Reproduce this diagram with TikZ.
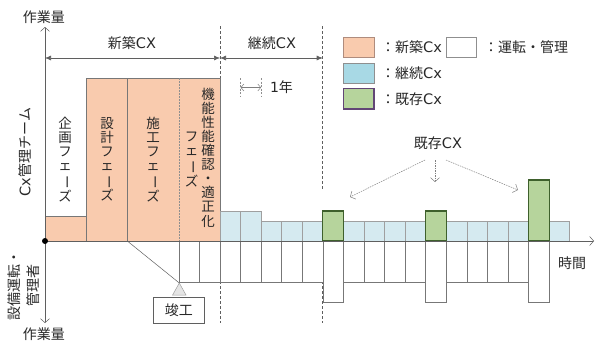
\documentclass[tikz,border=0pt]{standalone}
\usepackage{fontspec}
\usepackage{graphicx}
\setmainfont{Noto Sans CJK JP}
\newfontfamily\latn{DejaVu Sans}
\newcommand{\CX}{{\latn\fontsize{14.5}{16}\selectfont CX}}
\newcommand{\Cx}{{\latn\fontsize{14.5}{16}\selectfont Cx}}
\usetikzlibrary{arrows.meta}
\definecolor{orng}{RGB}{249,203,174}
\definecolor{orngB}{RGB}{175,140,125}
\definecolor{blu}{RGB}{213,234,240}
\definecolor{bluL}{RGB}{168,217,229}
\definecolor{grn}{RGB}{182,212,156}
\definecolor{grnB}{RGB}{62,96,44}
\definecolor{purp}{RGB}{98,70,118}
\definecolor{ln}{RGB}{95,95,95}
\definecolor{tx}{RGB}{40,40,40}
\newcommand{\vbar}{\rotatebox[origin=c]{-90}{ー}}
\begin{document}
\begin{tikzpicture}[x=1pt,y=-1pt,
  cellline/.style={draw=ln!85, line width=0.5pt},
  txt/.style={font=\fontsize{14}{16}\selectfont, inner sep=0pt, text=tx},
  vtxt/.style={font=\fontsize{13.5}{14.1}\selectfont, align=center, inner sep=0pt, text=tx},
  axisarrow/.style={draw=ln, line width=0.6pt, -{Straight Barb[length=4pt,width=9pt,line width=0.5pt]}},
  dashv/.style={draw=ln, line width=0.7pt, dash pattern=on 3pt off 2pt},
  bracket/.style={draw=ln, line width=0.6pt, {Latex[length=6pt,width=5pt]}-{Latex[length=6pt,width=5pt]}},
  dotarrow/.style={draw=ln!80, line width=0.5pt, dash pattern=on 1.5pt off 1pt, -{Straight Barb[length=4pt,width=9pt,line width=0.5pt]}},
  grncell/.style={fill=grn, draw=grnB, line width=1.1pt},
  legbox/.style={minimum width=30.7pt, minimum height=20.4pt, inner sep=0pt}
]
\useasboundingbox (0,0) rectangle (595,343);

% dashed separators
\draw[dashv] (220,26) -- (220,78);
\draw[dashv] (220,241) -- (220,323);
\draw[dashv] (322.7,26) -- (322.7,190);
\draw[dashv] (322.7,241) -- (322.7,323);

% orange phase blocks
\fill[orng] (45,216) rectangle (86.7,241);
\draw[cellline] (45,216) -- (86.7,216);
\fill[orng] (86.7,78) rectangle (220,241);
\draw[cellline] (86.7,241) -- (86.7,78) -- (220,78) -- (220,241);
\draw[cellline] (127.3,78) -- (127.3,241);
\draw[draw=ln!70, line width=0.5pt, dash pattern=on 2pt off 1pt] (179.3,78) -- (179.3,241);

% phase texts
\node[vtxt] (kikaku) at (65,159.5) {企\\画\\フ\\ェ\\\vbar\\ズ};
\node[vtxt] (sekkei) at (107,159.5) {設\\計\\フ\\ェ\\\vbar\\ズ};
\node[vtxt] (seko) at (153,159.5) {施\\工\\フ\\ェ\\\vbar\\ズ};
\node[vtxt] (kinou) at (208,157.5) {機\\能\\性\\能\\確\\認\\・\\適\\正\\化};
\node[vtxt] (kinou2) at (191.5,159.5) {フ\\ェ\\\vbar\\ズ};

% blue cells
\foreach \i in {0,...,16}{
  \pgfmathsetmacro{\xa}{220+\i*20.57}
  \pgfmathsetmacro{\xb}{220+(\i+1)*20.57}
  \pgfmathsetmacro{\yt}{\i<2 ? 211 : 221}
  \draw[cellline, fill=blu, draw=ln!60] (\xa,\yt) rectangle (\xb,241);
}
% green cells
\foreach \i/\yt in {5/211,10/211,15/180}{
  \pgfmathsetmacro{\xa}{220+\i*20.57}
  \pgfmathsetmacro{\xb}{220+(\i+1)*20.57}
  \draw[grncell] (\xa,\yt) rectangle (\xb,241);
}
% operation cells below axis
\foreach \j in {-2,...,15}{
  \pgfmathsetmacro{\xa}{220+\j*20.57}
  \pgfmathsetmacro{\xb}{220+(\j+1)*20.57}
  \pgfmathsetmacro{\yb}{\j==5 ? 302.7 : (\j==10 ? 302.7 : (\j==15 ? 302.7 : 282))}
  \draw[cellline, fill=white] (\xa,241) rectangle (\xb,\yb);
}

% axes
\draw[axisarrow] (45,241) -- (45,27);
\draw[axisarrow] (45,241) -- (45,323);
\draw[axisarrow] (45,241) -- (594,241);
\node[circle, fill=black, inner sep=0pt, minimum size=6pt] (origin) at (45,241) {};

\node[txt] (yTop) at (44,17) {作業量};
\node[txt] (yBot) at (44,334) {作業量};
\node[txt] (xLab) at (572,263) {時間};
\node[txt, rotate=90] (team) at (25,152) {\Cx 管理チーム};
\node[txt, rotate=90, align=center, font=\fontsize{14}{19}\selectfont] (mgr) at (24,285) {設備運転・\\管理者};

% top brackets
\coordinate (b0) at (45,58);
\coordinate (b1) at (220,58);
\coordinate (b2) at (322.7,58);
\draw[bracket] (b0) -- (b1);
\draw[bracket] (b1) -- (b2);
\node[txt] (shinchiku) at (132,43) {新築\CX};
\node[txt] (keizoku) at (272,43) {継続\CX};

% 1 year marker
\draw[dashv, line width=0.5pt, dash pattern=on 2pt off 1.5pt, draw=ln!70] (240.6,78) -- (240.6,97);
\draw[dashv, line width=0.5pt, dash pattern=on 2pt off 1.5pt, draw=ln!70] (261.1,78) -- (261.1,97);
\coordinate (y0) at (240.6,87.5);
\coordinate (y1) at (261.1,87.5);
\draw[draw=ln!80, line width=0.5pt, {Straight Barb[length=3pt,width=7pt,line width=0.5pt]}-{Straight Barb[length=3pt,width=7pt,line width=0.5pt]}] (y0) -- (y1);
\node[txt] (oneyear) at (281.5,87.5) {{\latn 1}年};

% completion
\coordinate (c0) at (127.3,241);
\coordinate (apex) at (179.3,283);
\draw[draw=ln, line width=0.5pt] (c0) -- (apex);
\draw[draw=ln!60, fill=black!10, line width=0.5pt] (apex) -- (186,295) -- (172.6,295) -- cycle;
\node[draw=ln, line width=0.5pt, minimum width=51pt, minimum height=25.6pt, inner sep=0pt, txt] (shunko) at (178.8,310.5) {竣工};

% existing Cx callout
\node[txt] (kizon) at (438,143) {既存\CX};
\coordinate (k1) at (425,160);
\coordinate (k2) at (435,160);
\coordinate (k3) at (446,160);
\coordinate (t1) at (350,197);
\coordinate (t2) at (435,182);
\coordinate (t3) at (518,190);
\draw[dotarrow] (k1) -- (t1);
\draw[dotarrow] (k2) -- (t2);
\draw[dotarrow] (k3) -- (t3);

% legend
\node[legbox, fill=orng, draw=orngB, line width=0.6pt] (lgO) at (358.7,47.5) {};
\node[txt, anchor=west] (lgOt) at (381,47.5) {：新築\Cx};
\node[legbox, fill=white, draw=ln!70, line width=0.6pt] (lgW) at (461.2,47.5) {};
\node[txt, anchor=west] (lgWt) at (484,47.5) {：運転・管理};
\node[legbox, fill=bluL, draw=ln!70, line width=0.6pt] (lgB) at (358.7,73) {};
\node[txt, anchor=west] (lgBt) at (381,73) {：継続\Cx};
\node[legbox, fill=grn, draw=purp, line width=1.3pt] (lgG) at (358.7,98.7) {};
\node[txt, anchor=west] (lgGt) at (381,98.7) {：既存\Cx};
\end{tikzpicture}
\end{document}
